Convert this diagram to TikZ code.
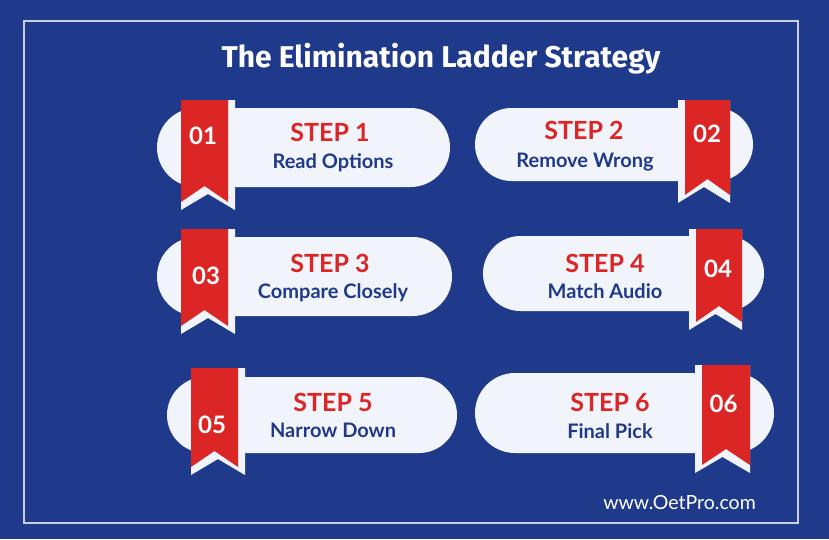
\documentclass[tikz,border=0pt]{standalone}
\usepackage{fontspec}
\setmainfont{Lato}
\newfontfamily\titlefont{Fira Sans}
\usetikzlibrary{shapes.misc}
\definecolor{OetNavy}{HTML}{1F3A8A}
\definecolor{OetRed}{HTML}{DC2626}
\definecolor{OetPale}{HTML}{F1F4FA}
\definecolor{OetLine}{HTML}{C9D0E6}

\begin{document}
\begin{tikzpicture}[x=1pt,y=-1pt]
  \tikzstyle{pill}=[rounded rectangle,fill=OetPale,inner sep=0pt]
  \tikzstyle{steplbl}=[anchor=base,inner sep=0pt,text=OetRed,
    font=\fontsize{25}{26}\selectfont\bfseries]
  \tikzstyle{stepname}=[anchor=base,inner sep=0pt,text=OetNavy,
    font=\fontsize{20}{21}\selectfont\bfseries]
  \tikzstyle{stepnum}=[anchor=base,inner sep=0pt,text=white,
    font=\fontsize{24}{25}\selectfont\bfseries]
  % background and frame
  \fill[OetNavy] (0,0) rectangle (829,539);
  \draw[OetLine,line width=1.2pt] (24,21) rectangle (798,523);
  \node[anchor=base,inner sep=0pt,text=white,
    font=\titlefont\fontsize{30}{31}\selectfont\bfseries] (title) at (441,67)
    {The Elimination Ladder Strategy};
  % capsules
  \foreach \i/\cx/\cy/\w/\h in {1/303.5/147.5/293/79, 2/614/144.5/278/73,
      3/304.5/276.5/295/79, 4/623.5/273.5/281/75,
      5/312/415/290/76, 6/624.5/413/299/80}
    \node[pill,minimum width=\w,minimum height=\h] (pill\i) at (\cx,\cy) {};
  % ribbons: red left/right, top, bottom, pale left/right
  \foreach \a/\b/\t/\e/\c/\d in {181/228/100/202/181/235, 685/730/100/195/678/730,
      181/228/229/326/181/235, 696/742/229/322/689/742,
      191/238/368/467/191/245, 702/750/365/465/695/750}
  {
    \fill[OetPale] (\c,\t) -- (\d,\t) -- (\d,\e+8) -- ({(\c+\d)/2},\e-8)
      -- (\c,\e+8) -- cycle;
    \fill[OetRed] (\a,\t) -- (\b,\t) -- (\b,\e) -- ({(\a+\b)/2},\e-16)
      -- (\a,\e) -- cycle;
  }
  % step texts
  \node[stepnum] (n1) at (203,144) {01};
  \node[steplbl] (s1) at (330,141) {STEP 1};
  \node[stepname] (t1) at (333,168) {Read Options};
  \node[stepnum] (n2) at (707,142) {02};
  \node[steplbl] (s2) at (584,139) {STEP 2};
  \node[stepname] (t2) at (585,167) {Remove Wrong};
  \node[stepnum] (n3) at (206,284) {03};
  \node[steplbl] (s3) at (330,272) {STEP 3};
  \node[stepname] (t3) at (333,298) {Compare Closely};
  \node[stepnum] (n4) at (718,277) {04};
  \node[steplbl] (s4) at (605,272) {STEP 4};
  \node[stepname] (t4) at (605,298) {Match Audio};
  \node[stepnum] (n5) at (212,433) {05};
  \node[steplbl] (s5) at (333,411) {STEP 5};
  \node[stepname] (t5) at (333,437) {Narrow Down};
  \node[stepnum] (n6) at (723.5,412) {06};
  \node[steplbl] (s6) at (610,411) {STEP 6};
  \node[stepname] (t6) at (610,438) {Final Pick};
  \node[anchor=base,inner sep=0pt,text=white,font=\fontsize{19.5}{20}\selectfont]
    (url) at (679.5,509) {www.OetPro.com};
\end{tikzpicture}
\end{document}
